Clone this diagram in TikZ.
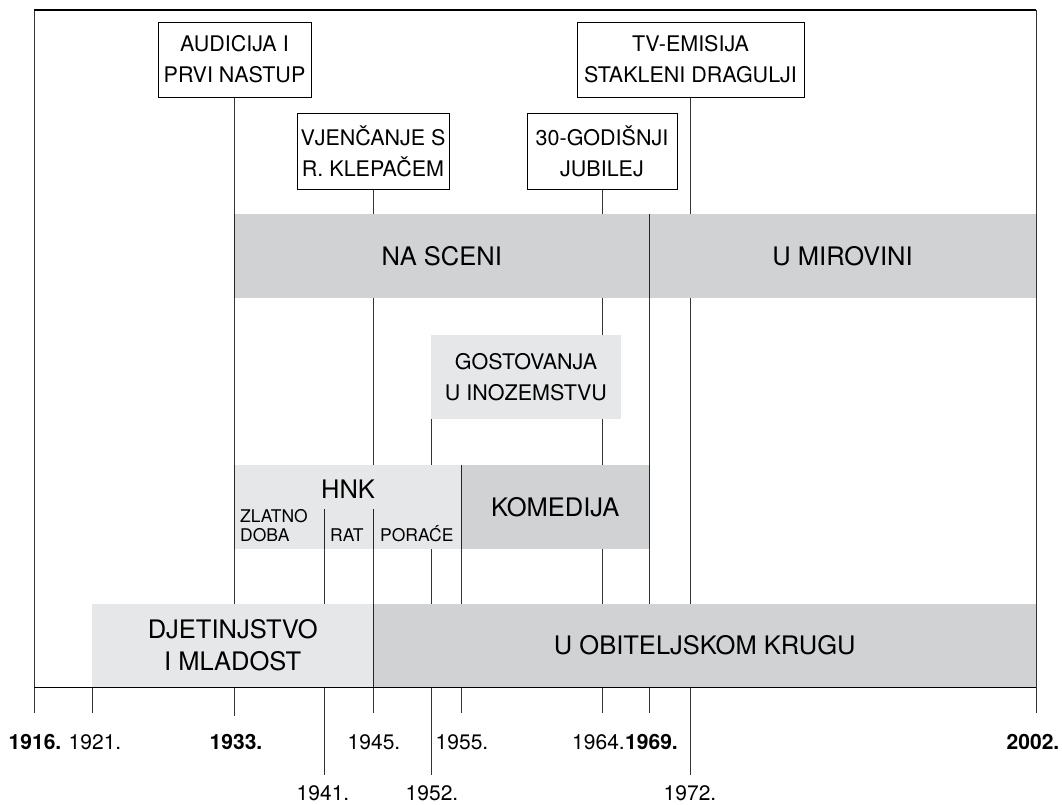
\documentclass[tikz,border=0pt]{standalone}
\usepackage{fontspec}
\setmainfont{TeX Gyre Heros}
\definecolor{darkband}{HTML}{D1D2D4}
\definecolor{lightband}{HTML}{E6E7E8}
\pgfdeclarelayer{bg}
\pgfsetlayers{bg,main}
\tikzset{
  callout/.style={draw=black, fill=white, line width=0.8pt, inner sep=0pt, align=center, font=\fontsize{21.5}{31}\selectfont},
  dband/.style={fill=darkband, inner sep=0pt, outer sep=0pt, align=center, font=\fontsize{25.5}{32}\selectfont},
  lband/.style={fill=lightband, inner sep=0pt, outer sep=0pt, align=center, font=\fontsize{25.5}{32}\selectfont},
  vline/.style={draw=black!80, line width=0.9pt},
  divline/.style={draw=black!85, line width=0.9pt},
  frameline/.style={draw=black, line width=1.1pt},
  year/.style={anchor=base, inner sep=0pt, font=\fontsize{21}{24}\selectfont},
  small/.style={inner sep=0pt, align=left, font=\fontsize{17.5}{19}\selectfont}
}
\begin{document}
\begin{tikzpicture}[x=1pt,y=-1pt]
\useasboundingbox (0,0) rectangle (1062,804);
% callout boxes
\node[callout, minimum width=153, minimum height=75] (aud) at (234.5,59.5) {AUDICIJA I\\PRVI NASTUP};
\node[callout, minimum width=227, minimum height=75] (tv) at (690.5,59.5) {TV-EMISIJA\\STAKLENI DRAGULJI};
\node[callout, minimum width=152, minimum height=76] (vj) at (373,151) {VJENČANJE S\\R. KLEPAČEM};
\node[callout, minimum width=150, minimum height=76] (jub) at (602,151) {30-GODIŠNJI\\JUBILEJ};
% bands
\node[dband, minimum width=414.5, minimum height=84] (scena) at (441.75,256) {NA SCENI};
\node[dband, minimum width=387, minimum height=84] (mir) at (842.5,256) {U MIROVINI};
\node[lband, minimum width=190, minimum height=84, font=\fontsize{21.5}{31}\selectfont] (gost) at (526,377) {GOSTOVANJA\\U INOZEMSTVU};
\node[lband, minimum width=227, minimum height=84] (hnk) at (348,507) {};
\node[dband, minimum width=187.5, minimum height=84] (kom) at (555.25,507) {KOMEDIJA};
\node[lband, minimum width=281.5, minimum height=83] (djet) at (232.75,645.5) {DJETINJSTVO\\I MLADOST};
\node[dband, minimum width=662.5, minimum height=83] (obit) at (704.75,645.5) {U OBITELJSKOM KRUGU};
% band labels
\node[anchor=base, inner sep=0pt, font=\fontsize{25.5}{30}\selectfont] (hnklab) at (348,498) {HNK};
\node[small, anchor=west] (zlat) at (240,526) {ZLATNO\\DOBA};
\node[small, anchor=base west] (rat) at (330,541) {RAT};
\node[small, anchor=base west] (porace) at (380,541) {PORAĆE};
% coordinates
\coordinate (tl) at (34,10);
\coordinate (tr) at (1036,10);
\coordinate (t1916) at (34,713);
\coordinate (t1921) at (92,713);
\coordinate (t1933) at (234.5,716);
\coordinate (t1941) at (324,775);
\coordinate (t1945) at (373,713);
\coordinate (t1952) at (431,775);
\coordinate (t1955) at (461.5,713);
\coordinate (t1964) at (602,713);
\coordinate (t1969) at (649,713);
\coordinate (t1972) at (690.5,775);
\coordinate (t2002) at (1036,713);
\coordinate (axl) at (34,687);
\coordinate (axr) at (1036,687);
\coordinate (d1941) at (324,509);
\coordinate (d1945) at (373.5,509);
% lines behind bands
\begin{pgfonlayer}{bg}
\draw[vline] (aud.south) -- (t1933);
\draw[vline] (vj.south) -- (t1945);
\draw[vline] (jub.south) -- (t1964);
\draw[vline] (tv.south) -- (t1972);
\draw[vline] (gost.south west) -- (t1952);
\draw[vline] (scena.north east) -- (t1969);
\draw[vline] (hnk.north east) -- (t1955);
\draw[vline] (d1941) -- (t1941);
\draw[vline] (djet.south west) -- (t1921);
\end{pgfonlayer}
% dividers over bands
\draw[divline] (scena.north west) -- (scena.south west);
\draw[divline] (scena.north east) -- (scena.south east);
\draw[divline] (hnk.north west) -- (hnk.south west);
\draw[divline] (hnk.north east) -- (hnk.south east);
\draw[divline] (kom.north east) -- (kom.south east);
\draw[divline] (d1941) -- (d1941 |- hnk.south);
\draw[divline] (d1945) -- (d1945 |- hnk.south);
\draw[divline] (djet.north east) -- (djet.south east);
% frame and axis
\draw[vline] (tl) -- (t1916);
\draw[vline] (tr) -- (t2002);
\draw[frameline] (tl) -- (tr);
\draw[frameline, line width=0.9pt] (axl) -- (axr);
% years
\node[year] (y1916) at (35,749) {\textbf{1916.}};
\node[year] (y1921) at (95,749) {1921.};
\node[year] (y1933) at (236,749) {\textbf{1933.}};
\node[year] (y1945) at (374,749) {1945.};
\node[year] (y1955) at (462,749) {1955.};
\node[year] (y1964) at (598.5,749) {1964.};
\node[year] (y1969) at (651.5,749) {\textbf{1969.}};
\node[year] (y2002) at (1033,749) {\textbf{2002.}};
\node[year] (y1941) at (323,800) {1941.};
\node[year] (y1952) at (432,800) {1952.};
\node[year] (y1972) at (690,800) {1972.};
\end{tikzpicture}
\end{document}
